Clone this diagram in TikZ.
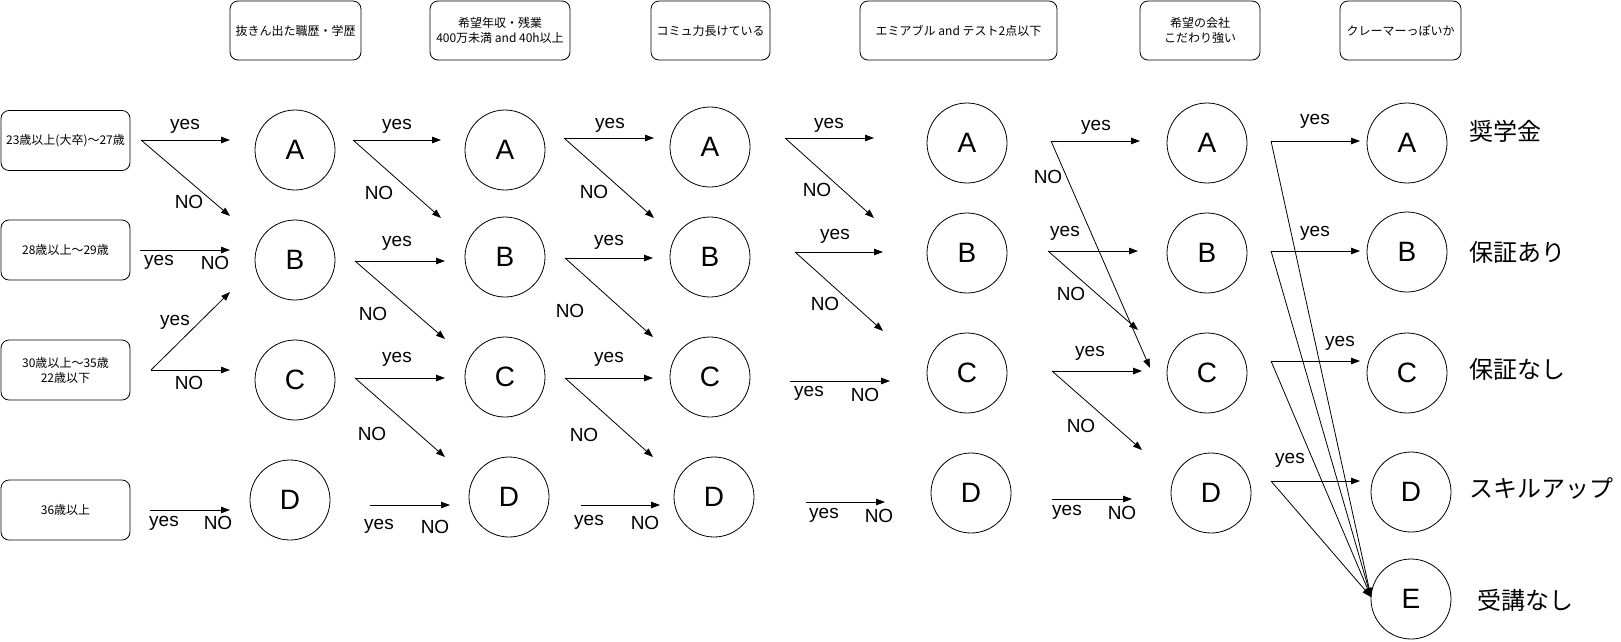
\documentclass[tikz,border=0pt]{standalone}
\usepackage{fontspec}
\setmainfont{Liberation Sans}
\newfontfamily\cjk{Noto Sans CJK JP}
\usetikzlibrary{arrows.meta}
\begin{document}
\begin{tikzpicture}[x=1pt,y=-1pt,
  hbox/.style={draw, rounded corners=8pt, line width=0.8pt, font=\cjk\fontsize{12}{15}\selectfont, align=center, inner sep=0pt},
  st/.style={draw, circle, minimum size=80pt, inner sep=0pt, line width=0.8pt, font=\fontsize{28}{30}\selectfont},
  lbl/.style={font=\fontsize{19}{21}\selectfont, inner sep=0pt},
  res/.style={font=\cjk\fontsize{24}{26}\selectfont, anchor=west, inner sep=0pt},
  arr/.style={-{Triangle[length=9pt,width=6.5pt]}, line width=0.8pt},
  ln/.style={line width=0.8pt}]
\useasboundingbox (0,0) rectangle (1621,641);
% header boxes
\node[hbox, minimum width=131pt, minimum height=59pt] (h1) at (295.5,30.5) {抜きん出た職歴・学歴};
\node[hbox, minimum width=140pt, minimum height=59pt] (h2) at (500,30.5) {希望年収・残業\\400万未満 and 40h以上};
\node[hbox, minimum width=119pt, minimum height=59pt] (h3) at (710.5,30.5) {コミュ力長けている};
\node[hbox, minimum width=197pt, minimum height=59pt] (h4) at (958.5,30.5) {エミアブル and テスト2点以下};
\node[hbox, minimum width=120pt, minimum height=59pt] (h5) at (1200,30.5) {希望の会社\\こだわり強い};
\node[hbox, minimum width=121pt, minimum height=59pt] (h6) at (1400.5,30.5) {クレーマーっぽいか};
% left boxes
\node[hbox, minimum width=129pt, minimum height=60pt] (q1) at (65.5,140.5) {23歳以上(大卒)～27歳};
\node[hbox, minimum width=129pt, minimum height=60pt] (q2) at (65.5,250) {28歳以上～29歳};
\node[hbox, minimum width=129pt, minimum height=60pt] (q3) at (65.5,370) {30歳以上～35歳\\22歳以下};
\node[hbox, minimum width=129pt, minimum height=60pt] (q4) at (65.5,510) {36歳以上};
% circles
\node[st] (A1) at (295,150) {A}; \node[st] (B1) at (295,260) {B}; \node[st] (C1) at (295,380) {C}; \node[st] (D1) at (290,500) {D};
\node[st] (A2) at (505,150) {A}; \node[st] (B2) at (505,257) {B}; \node[st] (C2) at (505,377) {C}; \node[st] (D2) at (509,497) {D};
\node[st] (A3) at (710,147) {A}; \node[st] (B3) at (710,257) {B}; \node[st] (C3) at (710,377) {C}; \node[st] (D3) at (714,497) {D};
\node[st] (A4) at (967,143) {A}; \node[st] (B4) at (967,253) {B}; \node[st] (C4) at (967,373) {C}; \node[st] (D4) at (971,493) {D};
\node[st] (A5) at (1207,143) {A}; \node[st] (B5) at (1207,253) {B}; \node[st] (C5) at (1207,373) {C}; \node[st] (D5) at (1211,493) {D};
\node[st] (A6) at (1407,143) {A}; \node[st] (B6) at (1407,252) {B}; \node[st] (C6) at (1407,373) {C}; \node[st] (D6) at (1411,492) {D}; \node[st] (E6) at (1411,599) {E};
% result labels
\node[res] (r1) at (1469,131) {奨学金};
\node[res] (r2) at (1469,252) {保証あり};
\node[res] (r3) at (1469,369) {保証なし};
\node[res] (r4) at (1469,488) {スキルアップ};
\node[res] (r5) at (1477,600) {受講なし};
% ---- column 0 connectors
\coordinate (l1) at (141,140); \coordinate (l1y) at (230,140); \coordinate (l1n) at (230,216);
\draw[arr] (l1) -- (l1y); \draw[arr] (l1) -- (l1n);
\node[lbl] (t1) at (185,126) {yes}; \node[lbl] (t2) at (189,202) {NO};
\coordinate (l2s) at (140,250); \coordinate (l2e) at (230,250);
\draw[arr] (l2s) -- (l2e);
\node[lbl] (t3) at (159,262) {yes}; \node[lbl] (t4) at (215,263) {NO};
\coordinate (l3) at (151,370); \coordinate (l3y) at (230,292); \coordinate (l3n) at (230,370);
\draw[arr] (l3) -- (l3y); \draw[arr] (l3) -- (l3n);
\node[lbl] (t5) at (175,322) {yes}; \node[lbl] (t6) at (189,383) {NO};
\coordinate (l4s) at (150,510); \coordinate (l4e) at (230,510);
\draw[arr] (l4s) -- (l4e);
\node[lbl] (t7) at (164,523) {yes}; \node[lbl] (t8) at (218,523) {NO};
% ---- column 1 connectors
\coordinate (a1) at (353,140); \coordinate (a1y) at (441,140); \coordinate (a1n) at (441,218);
\draw[arr] (a1) -- (a1y); \draw[arr] (a1) -- (a1n);
\node[lbl] (u1) at (397,126) {yes}; \node[lbl] (u2) at (379,193) {NO};
\coordinate (b1) at (355,261); \coordinate (b1y) at (445,261); \coordinate (b1n) at (445,339);
\draw[arr] (b1) -- (b1y); \draw[arr] (b1) -- (b1n);
\node[lbl] (u3) at (397,243) {yes}; \node[lbl] (u4) at (373,314) {NO};
\coordinate (c1) at (355,378); \coordinate (c1y) at (445,378); \coordinate (c1n) at (445,457);
\draw[arr] (c1) -- (c1y); \draw[arr] (c1) -- (c1n);
\node[lbl] (u5) at (397,359) {yes}; \node[lbl] (u6) at (372,434) {NO};
\coordinate (d1s) at (370,505); \coordinate (d1e) at (450,505);
\draw[arr] (d1s) -- (d1e);
\node[lbl] (u7) at (379,526) {yes}; \node[lbl] (u8) at (435,527) {NO};
% ---- column 2 connectors
\coordinate (a2) at (564,138); \coordinate (a2y) at (654,138); \coordinate (a2n) at (654,218);
\draw[arr] (a2) -- (a2y); \draw[arr] (a2) -- (a2n);
\node[lbl] (v1) at (610,125) {yes}; \node[lbl] (v2) at (594,192) {NO};
\coordinate (b2) at (565,258); \coordinate (b2y) at (653,258); \coordinate (b2n) at (653,337);
\draw[arr] (b2) -- (b2y); \draw[arr] (b2) -- (b2n);
\node[lbl] (v3) at (609,242) {yes}; \node[lbl] (v4) at (570,311) {NO};
\coordinate (c2) at (565,378); \coordinate (c2y) at (653,378); \coordinate (c2n) at (653,457);
\draw[arr] (c2) -- (c2y); \draw[arr] (c2) -- (c2n);
\node[lbl] (v5) at (609,359) {yes}; \node[lbl] (v6) at (584,435) {NO};
\coordinate (d2s) at (581,505); \coordinate (d2e) at (660,505);
\draw[arr] (d2s) -- (d2e);
\node[lbl] (v7) at (589,522) {yes}; \node[lbl] (v8) at (645,523) {NO};
% ---- column 3 connectors
\coordinate (a3) at (785,138); \coordinate (a3y) at (874,138); \coordinate (a3n) at (874,218);
\draw[arr] (a3) -- (a3y); \draw[arr] (a3) -- (a3n);
\node[lbl] (w1) at (829,125) {yes}; \node[lbl] (w2) at (817,190) {NO};
\coordinate (b3) at (795,252); \coordinate (b3y) at (883,252); \coordinate (b3n) at (883,331);
\draw[arr] (b3) -- (b3y); \draw[arr] (b3) -- (b3n);
\node[lbl] (w3) at (835,236) {yes}; \node[lbl] (w4) at (825,304) {NO};
\coordinate (c3s) at (790,381); \coordinate (c3e) at (890,381);
\draw[arr] (c3s) -- (c3e);
\node[lbl] (w5) at (809,393) {yes}; \node[lbl] (w6) at (865,395) {NO};
\coordinate (d3s) at (806,502); \coordinate (d3e) at (885,502);
\draw[arr] (d3s) -- (d3e);
\node[lbl] (w7) at (824,515) {yes}; \node[lbl] (w8) at (879,516) {NO};
% ---- column 4 connectors
\coordinate (a4) at (1051,141); \coordinate (a4y) at (1140,141); \coordinate (a4n) at (1150,368);
\draw[arr] (a4) -- (a4y); \draw[arr] (a4) -- (a4n);
\node[lbl] (x1) at (1096,127) {yes}; \node[lbl] (x2) at (1048,177) {NO};
\coordinate (b4) at (1048,251); \coordinate (b4y) at (1138,251); \coordinate (b4n) at (1138,330);
\draw[arr] (b4) -- (b4y); \draw[arr] (b4) -- (b4n);
\node[lbl] (x3) at (1065,233) {yes}; \node[lbl] (x4) at (1071,294) {NO};
\coordinate (c4) at (1052,371); \coordinate (c4y) at (1142,371); \coordinate (c4n) at (1142,450);
\draw[arr] (c4) -- (c4y); \draw[arr] (c4) -- (c4n);
\node[lbl] (x5) at (1090,353) {yes}; \node[lbl] (x6) at (1081,426) {NO};
\coordinate (d4s) at (1052,499); \coordinate (d4e) at (1132,499);
\draw[arr] (d4s) -- (d4e);
\node[lbl] (x7) at (1067,512) {yes}; \node[lbl] (x8) at (1122,513) {NO};
% ---- column 5 connectors
\coordinate (eT) at (1371,597);
\coordinate (a5) at (1271,141); \coordinate (a5y) at (1360,141);
\coordinate (b5) at (1271,251); \coordinate (b5y) at (1360,251);
\coordinate (c5) at (1271,361); \coordinate (c5y) at (1360,361);
\coordinate (d5) at (1271,481); \coordinate (d5y) at (1360,481);
\foreach \s in {a5,b5,c5,d5} {\draw[arr] (\s) -- (\s y); \draw[arr] (\s) -- (eT);}
\node[lbl] (y1) at (1315,121) {yes};
\node[lbl] (y2) at (1315,233) {yes};
\node[lbl] (y3) at (1340,343) {yes};
\node[lbl] (y4) at (1290,460) {yes};
\end{tikzpicture}
\end{document}
